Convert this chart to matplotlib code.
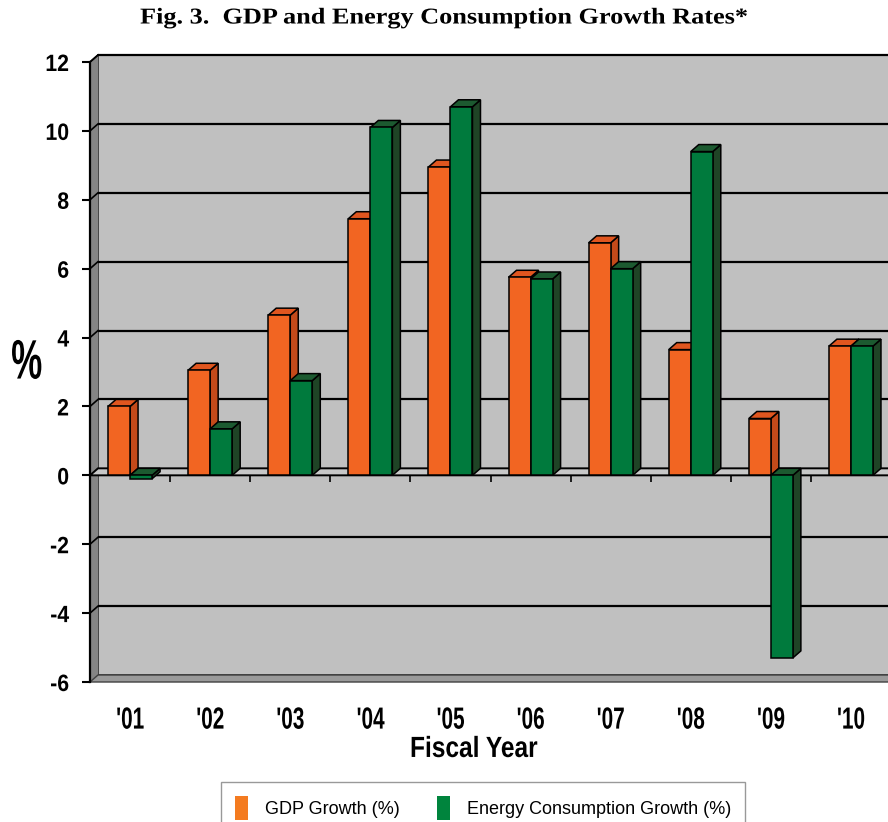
import matplotlib
matplotlib.use("Agg")
import matplotlib.pyplot as plt
from matplotlib.patches import Polygon, Patch
from matplotlib.patheffects import AbstractPathEffect
from matplotlib.transforms import Affine2D

# data
years = ["'01", "'02", "'03", "'04", "'05", "'06", "'07", "'08", "'09", "'10"]
gdp = [2.0, 3.05, 4.65, 7.45, 8.95, 5.75, 6.75, 3.65, 1.65, 3.75]
energy = [-0.1, 1.35, 2.75, 10.1, 10.7, 5.7, 6.0, 9.4, -5.3, 3.75]
yticks = [-6, -4, -2, 0, 2, 4, 6, 8, 10, 12]


class Squeeze(AbstractPathEffect):
    """scale the glyphs horizontally (fake condensed / wide font)"""

    def __init__(self, sx, anchor=0.5):
        super().__init__()
        self.sx = sx
        self.anchor = anchor

    def draw_path(self, renderer, gc, tpath, affine, rgbFace=None):
        ext = tpath.get_extents()
        x0 = ext.x0 + self.anchor * ext.width
        t = Affine2D().translate(-x0, 0).scale(self.sx, 1).translate(x0, 0) + affine
        renderer.draw_path(gc, tpath, t, rgbFace)


sans = "Liberation Sans"

fig = plt.figure(figsize=(8.88, 8.22), dpi=100)
# axes in pixels: front x from 90 to 891, y from 682 (-6) to 62 (12)
ax = fig.add_axes([90 / 888, (822 - 682) / 822, 801 / 888, 620 / 822])
ax.set_xlim(-0.5, 9.5)
ax.set_ylim(-6, 12)
ax.patch.set_visible(False)

# depth of the fake 3d effect, in pixels -> data units
ddx = 8 / (801 / 10)
ddy = 7 / (620 / 18)
x_lo, x_hi = -0.5, 9.5

# back wall, left wall, floor
ax.add_patch(Polygon([(x_lo + ddx, -6 + ddy), (x_hi + ddx, -6 + ddy),
                      (x_hi + ddx, 12 + ddy), (x_lo + ddx, 12 + ddy)],
                     fc="#c0c0c0", ec="#303030", lw=1.2, zorder=0, clip_on=False))
ax.add_patch(Polygon([(x_lo, -6), (x_lo, 12), (x_lo + ddx, 12 + ddy), (x_lo + ddx, -6 + ddy)],
                     fc="#858585", ec="none", zorder=0.5, clip_on=False))
ax.add_patch(Polygon([(x_lo, -6), (x_hi, -6), (x_hi + ddx, -6 + ddy), (x_lo + ddx, -6 + ddy)],
                     fc="#9a9a9a", ec="#404040", lw=1, zorder=0.5, clip_on=False))
# gridlines on the back wall, continued across the side wall
grid = [t for t in yticks if t != 0 and t != -6]
ax.hlines([t + ddy for t in grid], x_lo + ddx, x_hi + ddx,
          colors="black", lw=1.6, zorder=1, clip_on=False)
for t in grid + [12]:
    ax.plot([x_lo, x_lo + ddx], [t, t + ddy], color="black", lw=1.2, zorder=1, clip_on=False)
# zero plane
ax.add_patch(Polygon([(x_lo, 0), (x_hi, 0), (x_hi + ddx, ddy), (x_lo + ddx, ddy)],
                     fc="#c8c8c8", ec="black", lw=1.4, zorder=1.5, clip_on=False))
# category tick marks on zero line
ax.vlines([i + 0.5 for i in range(len(years) - 1)], -0.2, 0, colors="black", lw=1.2, zorder=1.5)

w = 0.275


def faces(x0, v, top, side, z):
    lo, hi = min(0, v), max(0, v)
    x1 = x0 + w
    ax.add_patch(Polygon([(x1, lo), (x1 + ddx, lo + ddy), (x1 + ddx, hi + ddy), (x1, hi)],
                         fc=side, ec="black", lw=1.1, zorder=z, clip_on=False))
    ax.add_patch(Polygon([(x0, hi), (x1, hi), (x1 + ddx, hi + ddy), (x0 + ddx, hi + ddy)],
                         fc=top, ec="black", lw=1.1, zorder=z, clip_on=False))


xs = list(range(len(years)))
for i in xs:
    faces(i - w, gdp[i], "#e0561f", "#c44a1a", 3.0)
    faces(i, energy[i], "#1c5a30", "#1f4426", 3.2)
ax.bar([i - w for i in xs], gdp, width=w, align="edge", color="#f26522",
       edgecolor="black", lw=1.1, zorder=3.1)
ax.bar(xs, energy, width=w, align="edge", color="#007a3d",
       edgecolor="black", lw=1.1, zorder=3.3)

# axes styling
for s in ["top", "right", "bottom"]:
    ax.spines[s].set_visible(False)
ax.spines["left"].set_linewidth(1.6)
ax.spines["left"].set_zorder(2)
ax.set_yticks(yticks)
ax.set_yticklabels([str(t) for t in yticks], fontsize=17, fontweight="bold", family=sans,
                   path_effects=[Squeeze(0.9, anchor=1.0)])
ax.tick_params(axis="y", length=6, width=1.5, pad=9)
ax.set_xticks(xs)
ax.set_xticklabels(years, fontsize=22, fontweight="bold", family=sans,
                   path_effects=[Squeeze(0.68)])
ax.tick_params(axis="x", length=0, pad=17)

ax.set_ylabel("%", rotation=0, fontsize=40, fontweight="bold", family=sans,
              va="center", ha="center", path_effects=[Squeeze(0.63)])
ax.yaxis.set_label_coords(-0.079, 0.512)
ax.set_xlabel("Fiscal Year", fontsize=21, fontweight="bold", family=sans, va="center",
              path_effects=[Squeeze(0.84)])
ax.xaxis.set_label_coords(0.479, -0.108)

fig.text(0.5, 1 - 18 / 822, "Fig. 3.  GDP and Energy Consumption Growth Rates*",
         ha="center", va="center", fontsize=16.3, fontweight="bold", family="Liberation Serif",
         path_effects=[Squeeze(1.16)])

handles = [Patch(fc="#f47b20", ec="none"), Patch(fc="#00843d", ec="none")]
fig.legend(handles, ["GDP Growth (%)", "Energy Consumption Growth (%)"],
           loc="upper left", bbox_to_anchor=(221 / 888, 1 - 782 / 822), ncol=2,
           prop={"family": sans, "size": 13}, frameon=True, fancybox=False,
           edgecolor="#808080", borderpad=0.8, handlelength=0.72, handleheight=1.65,
           handletextpad=0.9, columnspacing=2.1, borderaxespad=0)

fig.savefig("out.png", dpi=100)
